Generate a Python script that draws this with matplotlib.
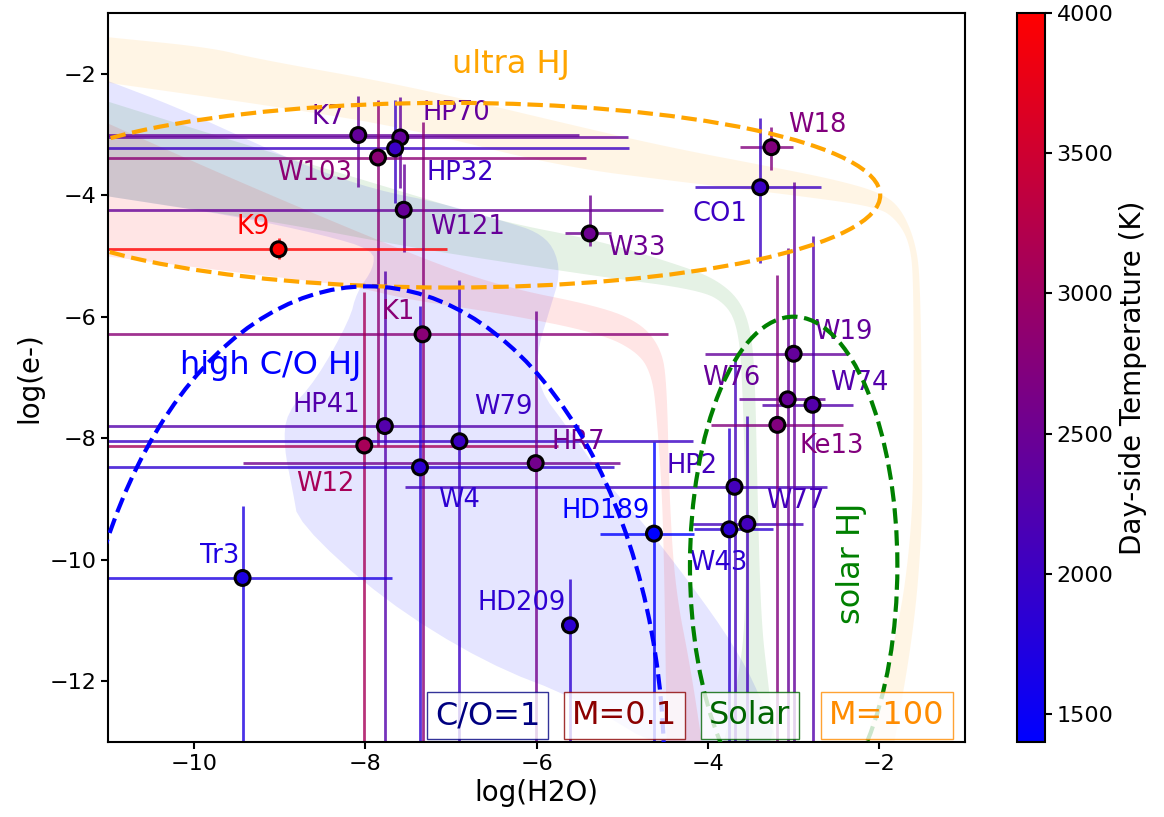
import numpy as np
import matplotlib
matplotlib.use('Agg')
import matplotlib.pyplot as plt
from matplotlib.colors import LinearSegmentedColormap, Normalize
from matplotlib.patches import Ellipse

#%%-----data-------------------------------------------------------------------
names = ['K7', 'HP70', 'HP32', 'W103', 'W121', 'K9', 'W33', 'W18', 'CO1', 'K1',
         'HP41', 'W12', 'W79', 'W4', 'HR7', 'HD189', 'HP2', 'W43', 'W77', 'W19',
         'W76', 'W74', 'Ke13', 'Tr3', 'HD209']
log_h2o = [-8.08, -7.59, -7.65, -7.85, -7.55, -9.01, -5.38, -3.26, -3.39, -7.33,
           -7.77, -8.01, -6.90, -7.36, -6.01, -4.63, -3.69, -3.75, -3.54, -3.00,
           -3.07, -2.78, -3.19, -9.43, -5.61]
log_e = [-3.01, -3.05, -3.23, -3.38, -4.24, -4.89, -4.63, -3.21, -3.87, -6.29,
         -7.80, -8.12, -8.05, -8.48, -8.41, -9.57, -8.80, -9.50, -9.41, -6.61,
         -7.36, -7.45, -7.78, -10.30, -11.08]
h2o_min = [-12, -12, -12, -12, -12, -12, -5.67, -3.63, -4.15, -12,
           -12, -12, -12, -12, -9.43, -5.26, -7.53, -4.16, -4.19, -4.04,
           -3.64, -3.37, -3.96, -12, -5.61]
h2o_max = [-5.50, -4.93, -4.92, -5.42, -4.52, -7.04, -5.13, -3.01, -2.68, -4.47,
           -5.50, -5.75, -4.18, -5.10, -5.03, -4.16, -2.61, -3.24, -2.89, -2.37,
           -2.63, -2.31, -2.43, -7.69, -5.61]
e_min = [-3.86, -3.89, -4.13, -8.13, -4.94, -5.05, -4.83, -3.58, -5.12, -14,
         -14, -14, -14, -14, -14, -14, -14, -14, -14, -14,
         -14, -14, -14, -14, -14]
e_max = [-2.37, -2.38, -2.43, -2.43, -3.49, -4.71, -4.00, -2.88, -2.73, -2.79,
         -5.25, -5.59, -5.39, -5.83, -5.90, -8.06, -6.68, -7.83, -7.63, -3.79,
         -4.87, -4.67, -5.31, -9.11, -10.31]
t_day = [2420, 2420, 2000, 2830, 2450, 4000, 2520, 2730, 2000, 2800,
         2260, 3100, 2000, 1860, 2570, 1400, 2100, 1860, 2100, 2420,
         2450, 2260, 2730, 1700, 1860]

# model tracks (outline of each shaded band)
co1_x = [-11, -10.22, -9.44, -8.67, -7.89, -7.11, -6.33, -6.0, -5.8, -5.72, -5.85,
         -6.0, -5.97, -5.65, -5.2, -4.75, -4.2, -3.7, -3.4, -3.15, -4.45, -5.5,
         -6.6, -7.8, -8.78, -8.84, -8.95, -8.92, -8.57, -8.18, -8.1, -7.9, -7.9,
         -8.5, -9.5, -11]
co1_y = [-2.12, -2.54, -3.04, -3.53, -3.91, -4.13, -4.45, -4.6, -4.85, -5.3, -5.9,
         -6.6, -7.2, -7.8, -8.7, -9.4, -10.4, -11.4, -12.2, -13.2, -13.2, -12.3,
         -11.7, -10.65, -9.39, -8.9, -8.13, -7.58, -7.04, -6.05, -5.6, -5.2, -4.9,
         -4.65, -4.35, -4.02]
m01_top_x = [-11, -9.44, -7.5, -6.43, -5.26, -4.79, -4.56, -4.48, -4.45, -4.38, -4.2, -4.05]
m01_top_y = [-2.82, -3.8, -4.95, -5.5, -5.83, -6.1, -6.49, -7.0, -9.0, -10.5, -11.8, -13.2]
m01_bot_x = [-11, -9.44, -8.12, -7.5, -6.43, -5.26, -4.8, -4.65, -4.6, -4.53, -4.5, -4.48]
m01_bot_y = [-5.01, -5.28, -5.5, -5.72, -5.94, -6.27, -6.6, -7.0, -7.6, -9.0, -11.0, -13.2]
sol_top_x = [-11, -9.44, -7.5, -6.43, -5.26, -4.29, -3.9, -3.63, -3.5, -3.45, -3.42, -3.38, -3.3, -3.2]
sol_top_y = [-2.46, -3.15, -3.97, -4.43, -4.75, -5.17, -5.39, -5.72, -6.2, -7.0, -9.0, -11.0, -12.0, -13.2]
sol_bot_x = [-11, -9.0, -7.5, -6.43, -5.26, -4.09, -3.78, -3.65, -3.6, -3.56, -3.56, -3.65, -3.85]
sol_bot_y = [-4.02, -4.45, -4.85, -5.09, -5.34, -5.56, -5.8, -6.2, -7.0, -9.0, -11.0, -12.0, -13.2]
m100_top_x = [-11, -9.8, -9.29, -7.5, -5.72, -4.5, -3.2, -2.5, -2.0, -1.75, -1.57, -1.52,
              -1.5, -1.5, -1.6, -1.85]
m100_top_y = [-1.4, -1.57, -1.75, -2.2, -2.8, -3.2, -3.55, -3.75, -3.95, -4.2, -4.8, -5.5,
              -8.0, -9.5, -11.2, -13.2]
m100_bot_x = [-11, -9, -7.5, -5.72, -4.33, -3, -2.03, -1.8, -1.64, -1.6, -1.6, -1.62,
              -1.78, -2.2]
m100_bot_y = [-2.15, -2.55, -2.9, -3.53, -3.78, -4.0, -4.19, -4.4, -4.8, -5.5, -8.0, -9.5,
              -11.2, -13.2]


def smooth(xs, ys, n=3):
    # chaikin corner cutting, keeps the end points
    p = np.column_stack([xs, ys]).astype(float)
    for _ in range(n):
        q = [p[0]]
        for a, b in zip(p[:-1], p[1:]):
            q.append(0.75 * a + 0.25 * b)
            q.append(0.25 * a + 0.75 * b)
        q.append(p[-1])
        p = np.array(q)
    return p[:, 0], p[:, 1]


def band(tx, ty, bx, by):
    tx, ty = smooth(tx, ty)
    bx, by = smooth(bx, by)
    return np.concatenate([tx, bx[::-1]]), np.concatenate([ty, by[::-1]])


#%%-----figure-----------------------------------------------------------------
plt.rcParams['axes.linewidth'] = 1.5
fig = plt.figure(figsize=(11.64, 8.17), dpi=100)
ax = fig.add_axes([0.0928, 0.0918, 0.7363, 0.8924])
cax = fig.add_axes([0.8737, 0.0918, 0.024, 0.8924])

cmap = LinearSegmentedColormap.from_list('br', ['blue', 'red'])
norm = Normalize(vmin=min(t_day), vmax=max(t_day))

# shaded model bands
bx, by = smooth(co1_x, co1_y, 2)
ax.fill(bx, by, color='blue', alpha=0.1, lw=0, zorder=0)
ax.fill(*band(m01_top_x, m01_top_y, m01_bot_x, m01_bot_y), color='red', alpha=0.1, lw=0, zorder=0)
ax.fill(*band(sol_top_x, sol_top_y, sol_bot_x, sol_bot_y), color='green', alpha=0.1, lw=0, zorder=0)
ax.fill(*band(m100_top_x, m100_top_y, m100_bot_x, m100_bot_y), color='orange', alpha=0.1, lw=0, zorder=0)

# error bars
for i in range(len(names)):
    c = cmap(norm(t_day[i]))
    ax.errorbar(log_h2o[i], log_e[i],
                xerr=[[log_h2o[i] - h2o_min[i]], [h2o_max[i] - log_h2o[i]]],
                yerr=[[log_e[i] - e_min[i]], [e_max[i] - log_e[i]]],
                fmt='none', ecolor=c, elinewidth=2, alpha=0.8, zorder=2)

sc = ax.scatter(log_h2o, log_e, c=t_day, cmap=cmap, norm=norm, s=115,
                edgecolors='k', linewidths=2.2, zorder=4)

# planet labels, offsets from the point
lab_off = {'K7': (-0.35, 0.30), 'HP70': (0.65, 0.41), 'HP32': (0.76, -0.40),
           'W103': (-0.74, -0.25), 'W121': (0.75, -0.29), 'K9': (-0.30, 0.36),
           'W33': (0.55, -0.24), 'W18': (0.54, 0.36), 'CO1': (-0.47, -0.44),
           'K1': (-0.29, 0.36), 'HP41': (-0.68, 0.35), 'W12': (-0.45, -0.64),
           'W79': (0.51, 0.56), 'W4': (0.46, -0.54), 'HR7': (0.50, 0.34),
           'HD189': (-0.56, 0.37), 'HP2': (-0.49, 0.34), 'W43': (-0.13, -0.56),
           'W77': (0.56, 0.37), 'W19': (0.58, 0.35), 'W76': (-0.66, 0.35),
           'W74': (0.55, 0.36), 'Ke13': (0.64, -0.34), 'Tr3': (-0.27, 0.36),
           'HD209': (-0.56, 0.36)}
for i, n in enumerate(names):
    dx, dy = lab_off[n]
    ax.text(log_h2o[i] + dx, log_e[i] + dy, n, color=cmap(norm(t_day[i])),
            fontsize=18.5, ha='center', va='center', zorder=3)

# populations
ax.add_patch(Ellipse((-7.02, -4.0), 10.06, 3.04, fill=False, ls='--', lw=3,
                     color='orange', zorder=6))
ax.add_patch(Ellipse((-7.97, -13.5), 6.92, 16, fill=False, ls='--', lw=3,
                     color='blue', zorder=6))
ax.add_patch(Ellipse((-3.0, -10.1), 2.42, 8.2, fill=False, ls='--', lw=3,
                     color='green', zorder=6))
ax.text(-6.3, -1.85, 'ultra HJ', color='orange', fontsize=23, ha='center', va='center')
ax.text(-9.1, -6.8, 'high C/O HJ', color='blue', fontsize=23, ha='center', va='center')
ax.text(-2.32, -10.06, 'solar HJ', color='green', fontsize=23, rotation=90,
        ha='center', va='center')

# model keys
for txt, col, xp in [('C/O=1', 'navy', -6.57), ('M=0.1', 'darkred', -4.97),
                     ('Solar', 'darkgreen', -3.51), ('M=100', 'darkorange', -1.91)]:
    ax.text(xp, -12.57, txt, color=col, fontsize=23, ha='center', va='center', zorder=10,
            bbox=dict(boxstyle='square,pad=0.25', facecolor='white', edgecolor=col, alpha=0.8))

ax.set_xlim(-11, -1)
ax.set_ylim(-13, -1)
ax.set_xticks([-10, -8, -6, -4, -2])
ax.set_yticks([-12, -10, -8, -6, -4, -2])
ax.tick_params(labelsize=16, width=1.5, length=5)
ax.set_xlabel('log(H2O)', fontsize=20)
ax.set_ylabel('log(e-)', fontsize=20)

cb = fig.colorbar(sc, cax=cax)
cb.set_ticks([1500, 2000, 2500, 3000, 3500, 4000])
cb.ax.tick_params(labelsize=16, width=1.5, length=5)
cb.set_label('Day-side Temperature (K)', fontsize=20)
cb.outline.set_linewidth(1.5)

plt.savefig('out.png', dpi=100)
